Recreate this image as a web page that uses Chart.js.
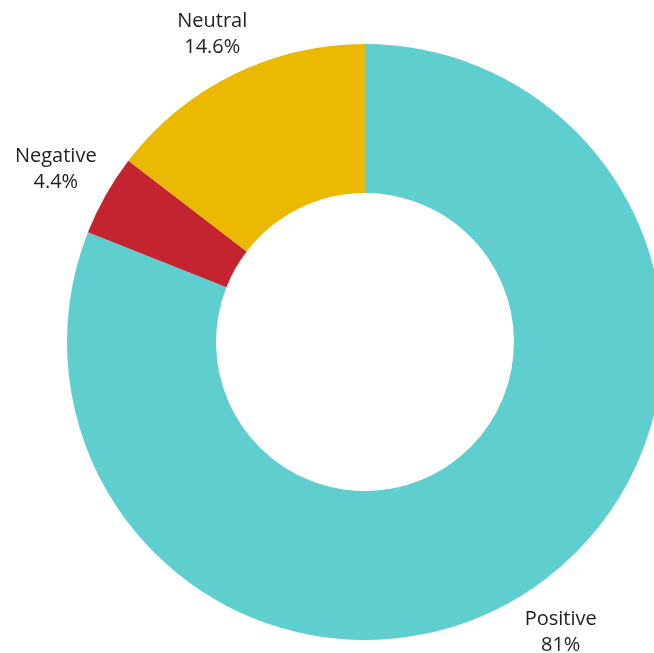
<!DOCTYPE html>
<html>
<head>
<meta charset="utf-8">
<script src="https://cdn.jsdelivr.net/npm/chart.js@4.4.1/dist/chart.umd.min.js"></script>
<style>
  html, body { margin: 0; padding: 0; background: #fff; overflow: hidden; }
  #wrap { width: 730px; height: 653px; position: relative; }
</style>
</head>
<body>
<div id="wrap"><canvas id="myChart"></canvas></div>
<script>
// データ
const categories = ["Positive", "Negative", "Neutral"];
const values = [81, 4.4, 14.6];
const valueLabels = ["81%", "4.4%", "14.6%"];
const colors = ["#5ecece", "#c32430", "#ebb900"];

// 外側ラベル（スライス中心角の延長上、テキストボックスの端が一定距離になるよう配置）
const outerLabels = {
  id: "outerLabels",
  afterDatasetsDraw(chart) {
    const { ctx } = chart;
    const meta = chart.getDatasetMeta(0);
    const lineGap = 26;
    const halfH = 24;
    const pad = 10;
    ctx.save();
    ctx.font = "20px 'Open Sans'";
    ctx.fillStyle = "#222";
    ctx.textAlign = "center";
    ctx.textBaseline = "middle";
    meta.data.forEach((arc, i) => {
      const { x, y, startAngle, endAngle, outerRadius } = arc.getProps(
        ["x", "y", "startAngle", "endAngle", "outerRadius"], true);
      const mid = (startAngle + endAngle) / 2;
      const cx = Math.cos(mid);
      const cy = Math.sin(mid);
      const halfW = Math.max(
        ctx.measureText(categories[i]).width,
        ctx.measureText(valueLabels[i]).width) / 2;
      const r = outerRadius + pad + Math.abs(cx) * halfW + Math.abs(cy) * halfH;
      const lx = x + cx * r;
      const ly = y + cy * r + 2;
      ctx.fillText(categories[i], lx, ly - lineGap / 2);
      ctx.fillText(valueLabels[i], lx, ly + lineGap / 2);
    });
    ctx.restore();
  },
};

const chartConfig = {
  type: "doughnut",
  data: {
    labels: categories,
    datasets: [{
      data: values,
      backgroundColor: colors,
      borderWidth: 0,
    }],
  },
  options: {
    responsive: true,
    maintainAspectRatio: false,
    animation: false,
    cutout: "50%",
    layout: { padding: { top: 44, bottom: 13, left: 0, right: 0 } },
    plugins: {
      legend: { display: false },
      tooltip: { enabled: false },
    },
  },
  plugins: [outerLabels],
};

new Chart(document.getElementById("myChart"), chartConfig);
</script>
</body>
</html>
